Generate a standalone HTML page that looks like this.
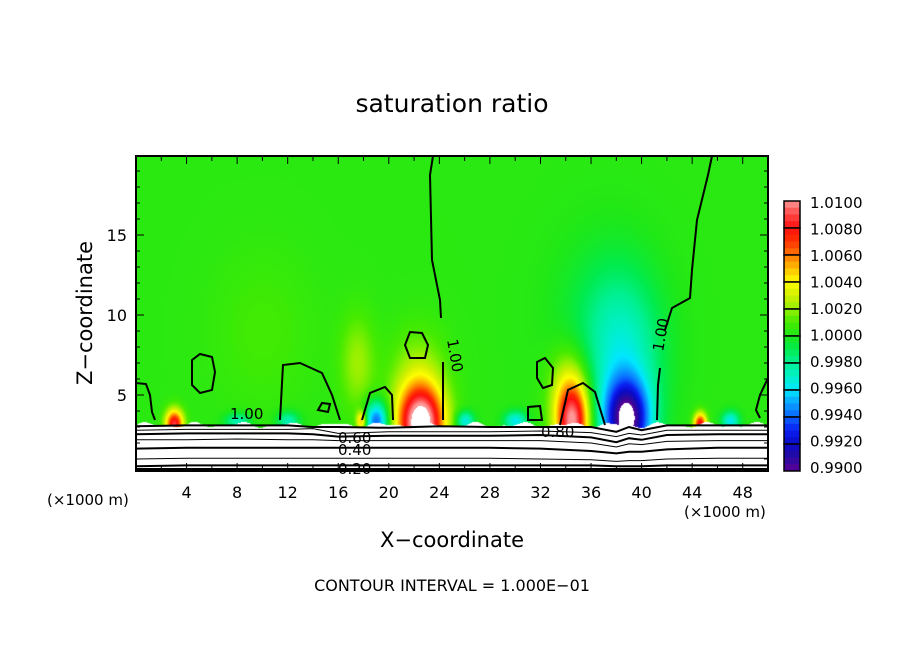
<!DOCTYPE html>
<html><head><meta charset="utf-8"><style>
body{margin:0;background:#fff;width:904px;height:654px;overflow:hidden;font-family:"DejaVu Sans","Liberation Sans",sans-serif}
#wrap{position:relative;width:904px;height:654px}
canvas{position:absolute;left:136px;top:156px}
svg{position:absolute;left:0;top:0}
</style></head><body><div id="wrap">
<canvas id="cv" width="632" height="315"></canvas>
<svg id="sv" width="904" height="654"></svg>
</div>
<script>
// blob data: x km, z km, amplitude, rx km, rz km
const blobX=[3,22.5,22.3,34.5,34.3,38.8,38.5,19,17.5,44.6,17.8,26,30,12,47,8,37,10];
const blobZ=[3.2,3.2,6,3.2,5.5,3.4,7,3.4,7,3.2,3.4,3.4,3.4,3.4,3.4,3.4,10,9];
const blobA=[0.0085,0.0112,0.002,0.009,0.003,-0.0095,-0.003,-0.0065,0.0018,0.008,0.005,-0.004,-0.004,-0.003,-0.004,-0.003,-0.001,0.0006];
const blobRX=[0.7,1.8,2.2,1.3,1.6,1.8,3.0,0.9,1.4,0.5,0.4,0.7,0.9,0.9,0.7,1.0,4.0,4.0];
const blobRZ=[0.9,2.3,3.0,2.3,2.5,2.5,5.0,1.2,3.0,0.7,0.6,0.6,0.6,0.6,0.6,0.5,5.0,5.0];
const cbLabels=["1.0100","1.0080","1.0060","1.0040","1.0020","1.0000","0.9980","0.9960","0.9940","0.9920","0.9900"];
const xTicks=[4,8,12,16,20,24,28,32,36,40,44,48];
const yTicks=[5,10,15];
// lower contour levels: z heights across x
const lowX=[0,4,8,12,14,16,20,24,28,32,36,38,39,40,42,46,50];
const lowLines=[
[3.05,3.1,3.1,3.1,3.0,3.0,2.95,3.05,3.0,3.0,3.0,2.7,3.0,2.8,3.1,3.1,3.1],
[2.8,2.85,2.85,2.85,2.9,2.6,2.7,2.7,2.7,2.75,2.65,2.4,2.6,2.5,2.8,2.8,2.8],
[2.55,2.6,2.6,2.6,2.55,2.4,2.45,2.45,2.45,2.5,2.35,2.05,2.3,2.2,2.5,2.55,2.55],
[2.2,2.2,2.25,2.2,2.2,2.15,2.15,2.15,2.15,2.15,2.0,1.75,1.95,1.9,2.1,2.15,2.15],
[1.65,1.7,1.7,1.7,1.7,1.7,1.7,1.7,1.7,1.65,1.5,1.35,1.45,1.45,1.6,1.7,1.7],
[1.0,1.05,1.05,1.05,1.05,1.05,1.05,1.05,1.05,1.0,0.95,0.85,0.9,0.9,1.0,1.05,1.05],
[0.55,0.6,0.6,0.6,0.6,0.6,0.6,0.6,0.6,0.6,0.6,0.55,0.55,0.55,0.6,0.6,0.6]];
const X=x=>136+x*12.64, Z=z=>475-z*16;
const stops=[[0.990,[90,0,150]],[0.991,[40,10,160]],[0.992,[10,10,200]],[0.993,[10,30,240]],[0.994,[10,100,255]],[0.995,[10,160,255]],[0.996,[0,230,255]],[0.997,[0,240,200]],[0.998,[0,240,150]],[0.999,[0,235,80]],[1.000,[30,232,25]],[1.001,[70,235,0]],[1.002,[150,240,0]],[1.003,[210,240,0]],[1.004,[255,255,0]],[1.005,[255,190,0]],[1.006,[255,120,0]],[1.007,[255,50,0]],[1.008,[255,15,15]],[1.009,[255,70,70]],[1.010,[255,150,150]]];
function cmap(v){if(v<0.990||v>1.0105)return[255,255,255];v=Math.min(v,1.010);
for(let i=0;i<stops.length-1;i++){if(v<=stops[i+1][0]){const t=(v-stops[i][0])/0.001;const a=stops[i][1],b=stops[i+1][1];return a.map((c,k)=>c+(b[k]-c)*t);}}return stops[20][1];}
const cv=document.getElementById('cv'),ctx=cv.getContext('2d'),img=ctx.createImageData(632,315);
for(let py=0;py<315;py++){const z=(475-(py+156))/16;for(let px=0;px<632;px++){const x=px/12.64;
let v=1.0003;for(let i=0;i<blobX.length;i++){const dx=(x-blobX[i])/blobRX[i],dz=(z-blobZ[i])/blobRZ[i];v+=blobA[i]*Math.exp(-(dx*dx+dz*dz));}
const surf=3.15+0.12*Math.sin(x*1.7)+0.08*Math.sin(x*3.1);
const c=z<surf?[255,255,255]:cmap(v);const o=(py*632+px)*4;img.data[o]=c[0];img.data[o+1]=c[1];img.data[o+2]=c[2];img.data[o+3]=255;}}
ctx.putImageData(img,0,0);
const NS='http://www.w3.org/2000/svg',sv=document.getElementById('sv');
function el(t,a,txt){const e=document.createElementNS(NS,t);for(const k in a)e.setAttribute(k,a[k]);if(txt!==undefined)e.textContent=txt;sv.appendChild(e);return e;}
lowLines.forEach((ln,j)=>{const p=el('polyline',{points:ln.map((z,i)=>X(lowX[i])+','+Z(z)).join(' '),fill:'none',stroke:'#000','stroke-width':j%2?1:2});

});
el('line',{x1:136,x2:768,y1:469,y2:469,stroke:'#000','stroke-width':2});
const paths=["M136,383 L146,384 L150,395 L152,412 L155,420","M192,360 L200,354 L212,357 L215,372 L212,390 L200,393 L192,385 Z","M280,420 L283,365 L300,363 L322,373 L332,395 L340,420","M362,420 L370,393 L385,387 L392,395 L393,420","M433,156 L430,175 L432,260 L440,300 L441,318","M443,362 L443,420","M405,345 L410,332 L422,333 L428,345 L425,358 L410,358 Z","M537,362 L545,358 L553,368 L552,385 L543,388 L537,378 Z","M528,407 L540,406 L542,420 L528,420 Z","M560,425 L568,390 L583,383 L595,392 L605,425","M712,156 L708,175 L697,220 L692,270 L690,298 L672,308 L665,330","M660,368 L658,385 L657,420","M768,378 L760,395 L756,410 L760,418","M318,410 L322,403 L330,404 L328,412 Z"];
paths.forEach(d=>{const p=el('path',{d,fill:'none',stroke:'#000','stroke-width':2});

});
const lbl=[["1.00",230,419,0],["1.00",447,340,80],["1.00",663,352,-80],["0.60",338,443,0],["0.40",338,455,0],["0.20",338,474,0],["0.80",541,437,0]];
lbl.forEach(l=>{const t=el('text',{x:l[1],y:l[2],'font-size':15,transform:`rotate(${l[3]} ${l[1]} ${l[2]})`},l[0]);

});
el('rect',{x:136,y:156,width:632,height:315,fill:'none',stroke:'#000','stroke-width':2,});
for(let x=2;x<50;x+=2){const L=x%4?5:8;el('line',{x1:X(x),x2:X(x),y1:471,y2:471-L,stroke:'#000'});el('line',{x1:X(x),x2:X(x),y1:156,y2:156+L,stroke:'#000'});}
for(let z=1;z<20;z++){const L=z%5?4:8;el('line',{x1:136,x2:136+L,y1:Z(z),y2:Z(z),stroke:'#000'});el('line',{x1:768,x2:768-L,y1:Z(z),y2:Z(z),stroke:'#000'});}
xTicks.forEach(v=>{const t=el('text',{x:X(v),y:498,'font-size':16,'text-anchor':'middle'},String(v));

});
yTicks.forEach(v=>{const t=el('text',{x:127,y:Z(v)+6,'font-size':16,'text-anchor':'end'},String(v));

});
for(let i=0;i<10;i++){const y0=201+i*27;const v0=1.010-i*0.002;
for(let k=0;k<4;k++){const c=cmap(v0-0.0005*(k+0.5));el('rect',{x:784,y:y0+k*27/4,width:16,height:27/4+0.5,fill:`rgb(${c.map(Math.round).join(',')})`});}
el('rect',{x:784,y:y0,width:16,height:27,fill:'none',stroke:'#000','stroke-width':1.5});}
cbLabels.forEach((s,i)=>{const t=el('text',{x:810,y:208+i*26.5,'font-size':15},s);

});
</script>
<svg width="904" height="654" style="position:absolute;left:0;top:0;pointer-events:none">
<text x="452" y="112" font-size="25" text-anchor="middle">saturation ratio</text>
<text x="452" y="547" font-size="21" text-anchor="middle">X−coordinate</text>
<text x="0" y="0" font-size="21" text-anchor="middle" transform="translate(92 313) rotate(-90)">Z−coordinate</text>
<text x="47" y="505" font-size="15">(×1000 m)</text>
<text x="684" y="517" font-size="15">(×1000 m)</text>
<text x="452" y="591" font-size="16" text-anchor="middle">CONTOUR INTERVAL = 1.000E−01</text>
</svg>
</body></html>
